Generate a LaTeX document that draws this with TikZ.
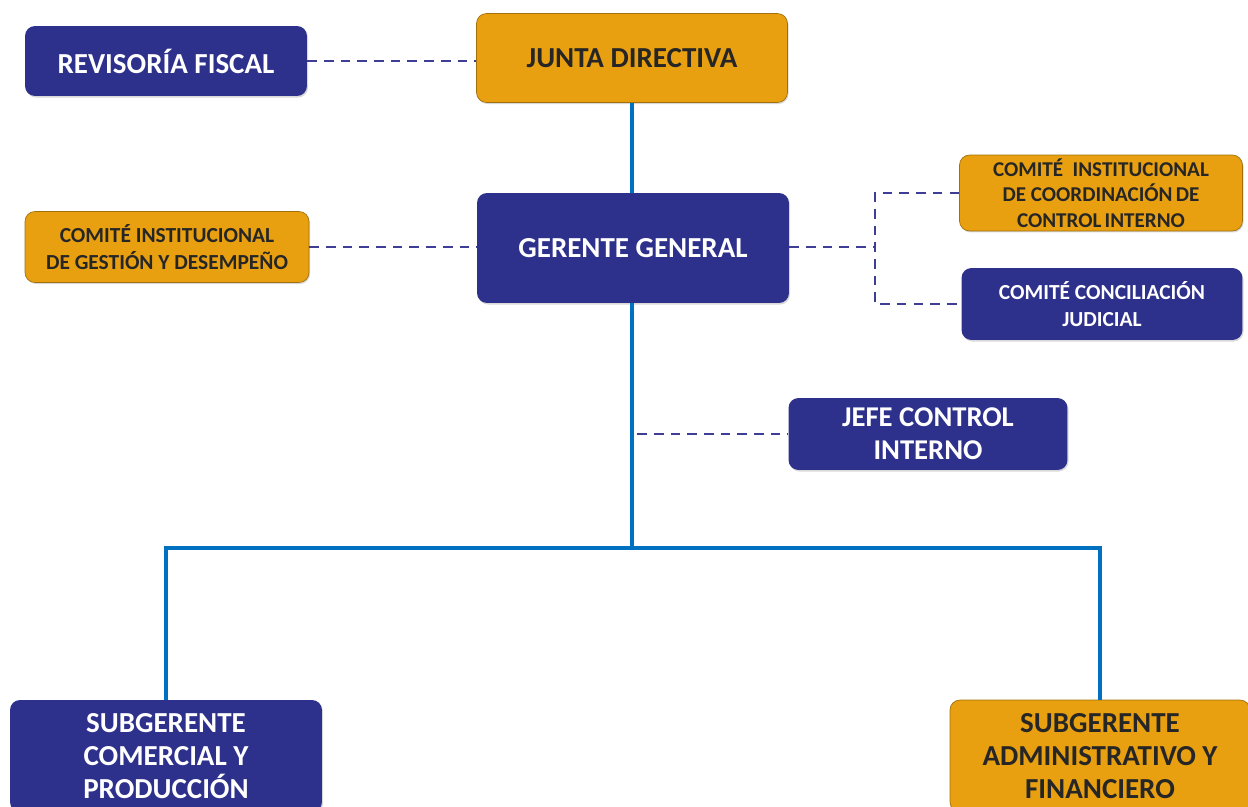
\documentclass[tikz,border=0pt]{standalone}
\usepackage{fontspec}
\setmainfont{Carlito}
\usetikzlibrary{shadows}
\definecolor{navy}{RGB}{46,49,140}
\definecolor{gold}{RGB}{232,160,16}
\definecolor{linkblue}{RGB}{0,112,192}
\definecolor{dashblue}{RGB}{62,62,150}
\tikzset{
    box/.style={rounded corners=0.2cm, align=center, inner sep=2pt,
        drop shadow={shadow xshift=0.6pt, shadow yshift=-0.9pt, opacity=0.3}},
    bluebox/.style={box, fill=navy, text=white},
    goldbox/.style={box, fill=gold, draw=gold!70!black, text=black!85},
    bigtext/.style={font=\fontsize{16.5}{19}\selectfont\bfseries},
    smalltext/.style={font=\fontsize{12.2}{15}\selectfont\bfseries},
    mainline/.style={linkblue, line width=2.3pt},
    dashline/.style={dashblue, line width=1.4pt, dash pattern=on 5.5pt off 4pt},
}
\begin{document}
\begin{tikzpicture}[x=0.02cm, y=-0.02cm]
    \useasboundingbox (0,0) rectangle (1248,807);
    % top level
    \node[goldbox, bigtext, minimum width=6.22cm, minimum height=1.78cm] (junta) at (632,58) {JUNTA DIRECTIVA};
    \node[bluebox, bigtext, minimum width=5.64cm, minimum height=1.40cm] (revisoria) at (166,61) {REVISORÍA FISCAL};
    \node[bluebox, bigtext, minimum width=6.24cm, minimum height=2.20cm] (gerente) at (633,248) {GERENTE GENERAL};
    % committees
    \node[goldbox, smalltext, minimum width=5.68cm, minimum height=1.42cm] (gestion) at (167,247) {COMITÉ INSTITUCIONAL\\DE GESTIÓN Y DESEMPEÑO};
    \node[goldbox, font=\fontsize{12}{14.5}\selectfont\bfseries, minimum width=5.66cm, minimum height=1.46cm] (coordinacion) at (1101,193) {COMITÉ\ \ INSTITUCIONAL\\DE COORDINACIÓN\hspace{0.15em}DE\\CONTROL\hspace{0.15em}INTERNO};
    \node[bluebox, smalltext, minimum width=5.62cm, minimum height=1.44cm] (conciliacion) at (1102,304) {COMITÉ CONCILIACIÓN\\JUDICIAL};
    \node[bluebox, font=\fontsize{16.3}{19}\selectfont\bfseries, minimum width=5.58cm, minimum height=1.44cm] (jefe) at (928,434) {JEFE CONTROL\\INTERNO};
    % subgerencias
    \node[bluebox, bigtext, minimum width=6.24cm, minimum height=2.24cm] (comercial) at (166,756) {SUBGERENTE\\COMERCIAL Y\\PRODUCCIÓN};
    \node[goldbox, bigtext, minimum width=6.0cm, minimum height=2.24cm] (administrativo) at (1100,756) {SUBGERENTE\\ADMINISTRATIVO Y\\FINANCIERO};

    \coordinate (bar) at (632,548);
    \coordinate (jefetap) at (632,434);
    \coordinate (split) at (875,247);

    % solid lines
    \draw[mainline] (junta.south -| bar) -- (gerente.north -| bar);
    \draw[mainline] (gerente.south -| bar) -- (bar);
    \draw[mainline] (bar) -| (comercial.north);
    \draw[mainline] (bar) -| (administrativo.north);

    % dashed lines
    \draw[dashline] (revisoria.east) -- (revisoria.east -| junta.west);
    \draw[dashline] (gestion.east) -- (gestion.east -| gerente.west);
    \draw[dashline] (gerente.east |- split) -- (split);
    \draw[dashline] (coordinacion.west) -| (split) |- (conciliacion.west);
    \draw[dashline] ([xshift=3pt]jefetap) -- (jefe.west);
\end{tikzpicture}
\end{document}
